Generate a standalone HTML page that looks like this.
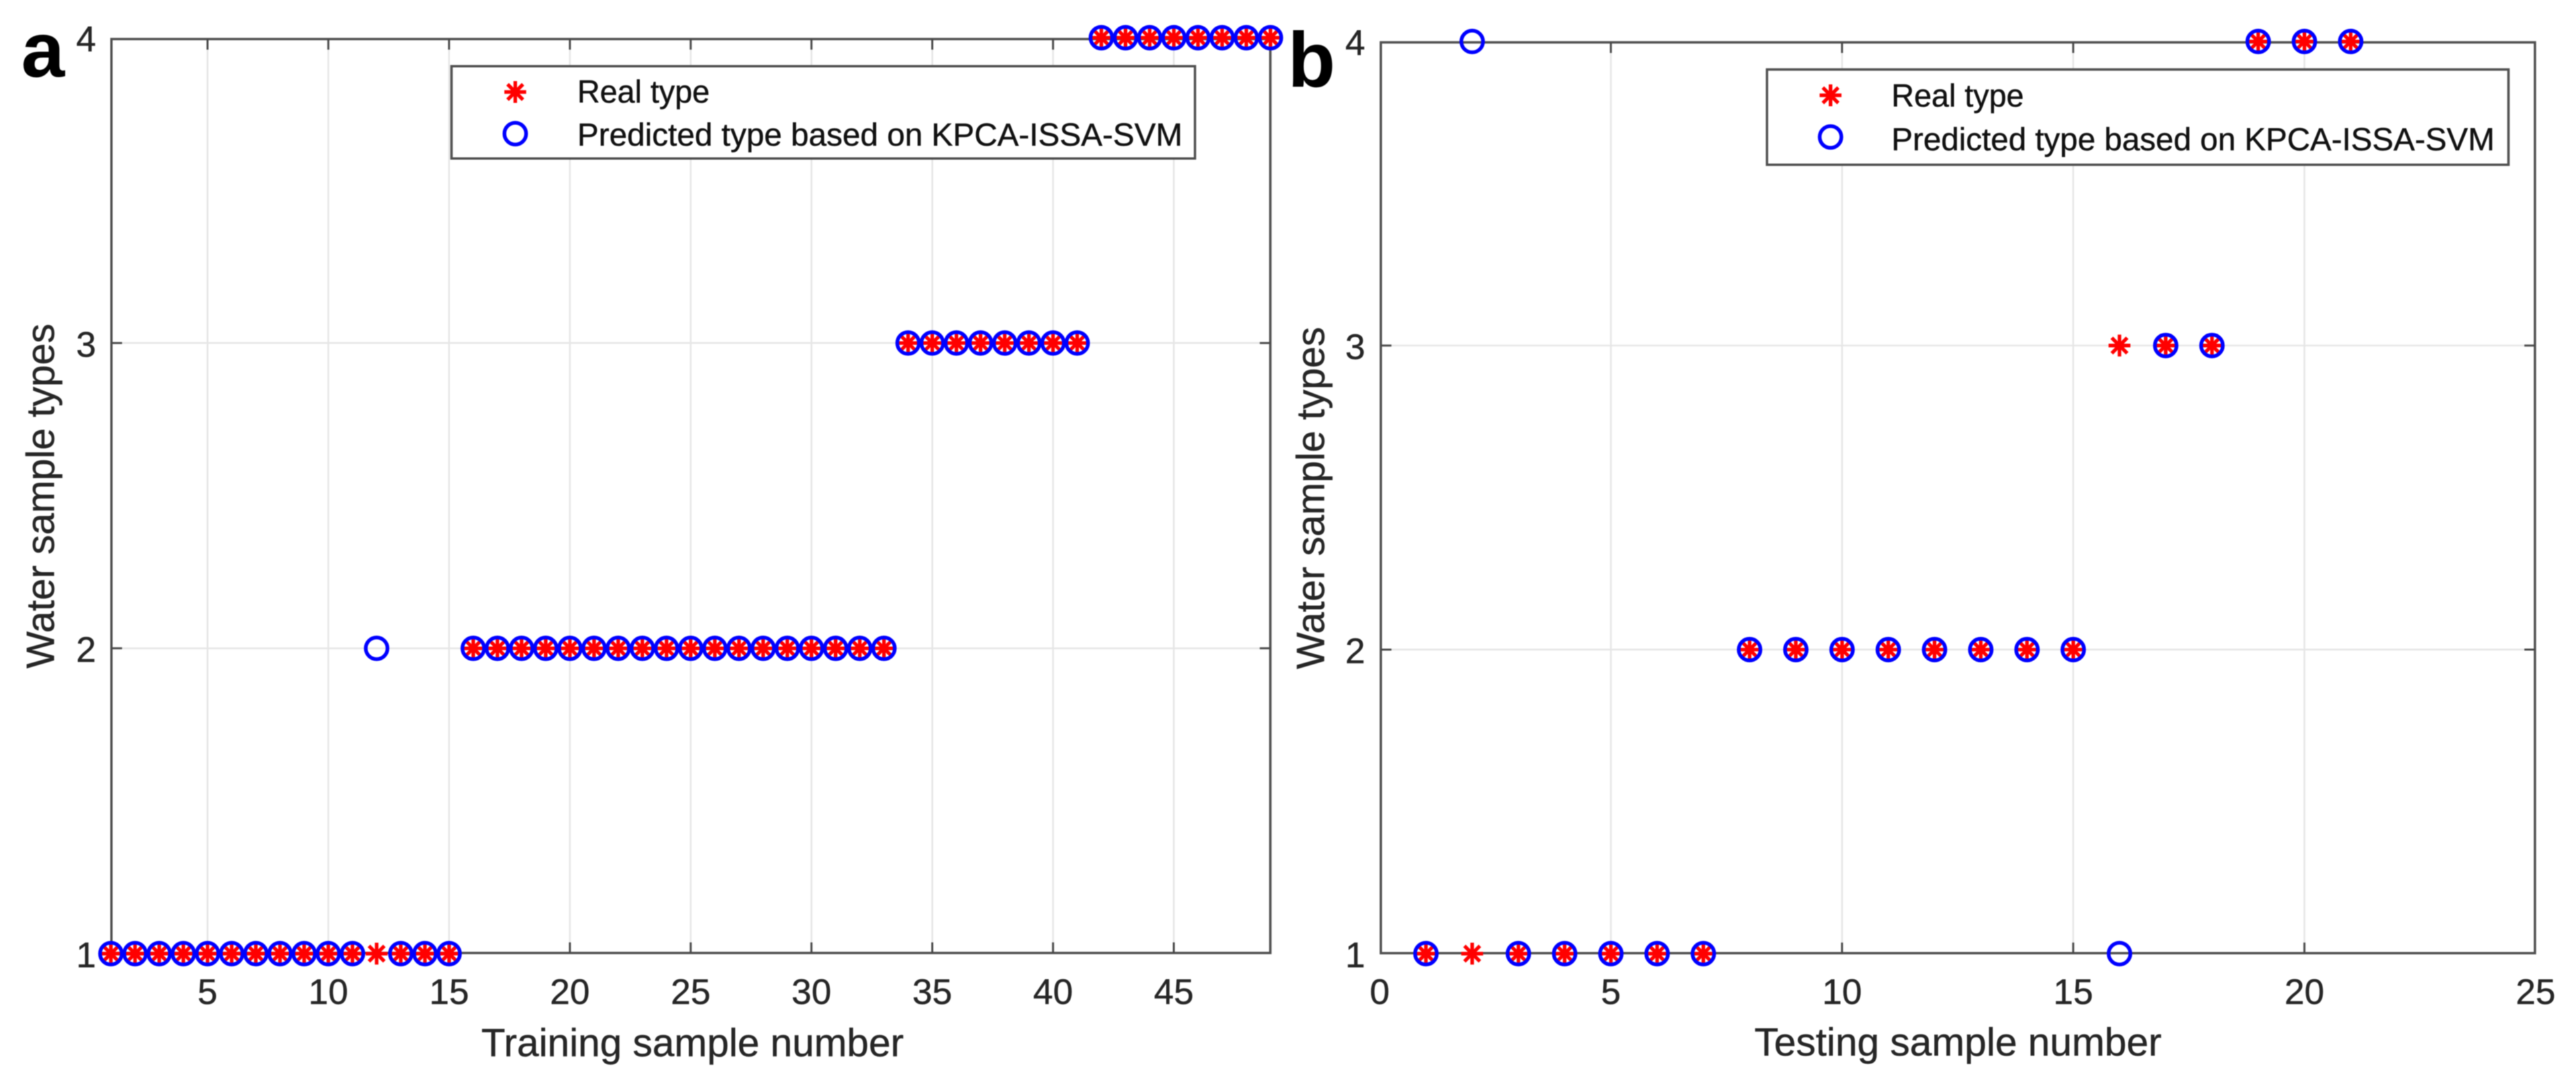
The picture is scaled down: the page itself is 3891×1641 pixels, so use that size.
<!DOCTYPE html>
<html lang="en">
<head>
<meta charset="utf-8">
<title>Water sample type classification</title>
<style>
html,body{margin:0;padding:0;background:#fff;}
#chart{display:block;width:3891px;height:1641px;filter:blur(0.9px);font-family:"Liberation Sans",Arial,sans-serif;}
.tick-label{font-size:54px;fill:#262626;stroke:#262626;stroke-width:0.5px;}
.axis-title{font-size:59px;fill:#262626;stroke:#262626;stroke-width:0.5px;}
.legend-text{font-size:48px;fill:#111;stroke:#111;stroke-width:0.5px;}
.panel-letter{font-size:118px;font-weight:bold;fill:#000;}
</style>
</head>
<body>
<svg id="chart" xmlns="http://www.w3.org/2000/svg" width="3891" height="1641" viewBox="0 0 3891 1641">
<rect x="0" y="0" width="3891" height="1641" fill="#fff"/>
<g id="panel-a"></g>
<g id="panel-b"></g>
<text class="panel-letter" x="32" y="116">a</text>
<text class="panel-letter" x="1945" y="131">b</text>
</svg>
<script>
// Panel a: training set
const trainingSamples = [1,2,3,4,5,6,7,8,9,10,11,12,13,14,15,16,17,18,19,20,21,22,23,24,25,26,27,28,29,30,31,32,33,34,35,36,37,38,39,40,41,42,43,44,45,46,47,48,49];
const trainingReal = [1,1,1,1,1,1,1,1,1,1,1,1,1,1,1,2,2,2,2,2,2,2,2,2,2,2,2,2,2,2,2,2,2,3,3,3,3,3,3,3,3,4,4,4,4,4,4,4,4];
const trainingPredicted = [1,1,1,1,1,1,1,1,1,1,1,2,1,1,1,2,2,2,2,2,2,2,2,2,2,2,2,2,2,2,2,2,2,3,3,3,3,3,3,3,3,4,4,4,4,4,4,4,4];
const trainingXTicks = [5,10,15,20,25,30,35,40,45];
// Panel b: testing set
const testingSamples = [1,2,3,4,5,6,7,8,9,10,11,12,13,14,15,16,17,18,19,20,21];
const testingReal = [1,1,1,1,1,1,1,2,2,2,2,2,2,2,2,3,3,3,4,4,4];
const testingPredicted = [1,4,1,1,1,1,1,2,2,2,2,2,2,2,2,1,3,3,4,4,4];
const testingXTicks = [0,5,10,15,20,25];
// Shared
const yTicks = [1,2,3,4];
const realLabel = "Real type";
const predictedLabel = "Predicted type based on KPCA-ISSA-SVM";

const NS = "http://www.w3.org/2000/svg";
const AXIS = "#505050", GRID = "#e6e6e6", TICK = "#484848";

function make(parent, tag, attrs, text) {
  const el = document.createElementNS(NS, tag);
  for (const k in attrs) el.setAttribute(k, attrs[k]);
  if (text !== undefined) el.textContent = text;
  parent.appendChild(el);
  return el;
}
function linear(d0, d1, r0, r1) {
  return v => r0 + (v - d0) * (r1 - r0) / (d1 - d0);
}
function drawCircle(parent, cx, cy) {
  const c = make(parent, "circle", {cx: cx, cy: cy, r: 16.4, fill: "none", stroke: "#0000ff", "stroke-width": 5.6});
  
  
  return c;
}
function drawStar(parent, cx, cy) {
  const r = 16.5, d = r * 0.707;
  const p = make(parent, "path", {
    d: "M" + (cx - r) + " " + cy + "H" + (cx + r) +
       "M" + cx + " " + (cy - r) + "V" + (cy + r) +
       "M" + (cx - d) + " " + (cy - d) + "L" + (cx + d) + " " + (cy + d) +
       "M" + (cx - d) + " " + (cy + d) + "L" + (cx + d) + " " + (cy - d),
    fill: "none", stroke: "#ff0000", "stroke-width": 5.4
  });
  
  
  return p;
}

function drawPanel(root, cfg) {
  const x = linear(cfg.xDomain[0], cfg.xDomain[1], cfg.xRange[0], cfg.xRange[1]);
  const y = linear(1, 4, cfg.yRange[0], cfg.yRange[1]);
  const f = cfg.frame;

  // grid
  cfg.xTicks.forEach(t => {
    const px = x(t);
    if (px <= f.left + 4 || px >= f.right - 4) return;
    const g = make(root, "line", {x1: px, x2: px, y1: f.top, y2: f.bottom, stroke: GRID, "stroke-width": 2.6});
    
    
  });
  [2, 3].forEach(t => {
    const g = make(root, "line", {x1: f.left, x2: f.right, y1: y(t), y2: y(t), stroke: GRID, "stroke-width": 2.6});
    
    
  });

  // frame
  const frame = make(root, "rect", {x: f.left, y: f.top, width: f.right - f.left, height: f.bottom - f.top, fill: "none", stroke: AXIS, "stroke-width": 3.6});
  
  

  // x ticks and labels
  cfg.xTicks.forEach(t => {
    const px = x(t);
    if (px > f.left + 4 && px < f.right - 4) {
      const t1 = make(root, "line", {x1: px, x2: px, y1: f.bottom, y2: f.bottom - 16, stroke: TICK, "stroke-width": 3});
      
      
      const t2 = make(root, "line", {x1: px, x2: px, y1: f.top, y2: f.top + 16, stroke: TICK, "stroke-width": 3});
      
      
    }
    const lab = make(root, "text", {class: "tick-label", x: px, y: 1517, "text-anchor": "middle"}, String(t));
    
    
  });

  // y ticks and labels
  yTicks.forEach(t => {
    const py = y(t);
    if (t === 2 || t === 3) {
      const t1 = make(root, "line", {x1: f.left, x2: f.left + 16, y1: py, y2: py, stroke: TICK, "stroke-width": 3});
      
      
      const t2 = make(root, "line", {x1: f.right, x2: f.right - 16, y1: py, y2: py, stroke: TICK, "stroke-width": 3});
      
      
    }
    const lab = make(root, "text", {class: "tick-label", x: cfg.yLabelX, y: py + 20.5, "text-anchor": "end"}, String(t));
    
    
  });

  // axis titles
  const xt = make(root, "text", {class: "axis-title", x: cfg.xTitle.x, y: cfg.xTitle.y, textLength: cfg.xTitle.len, lengthAdjust: "spacingAndGlyphs"}, cfg.xTitle.text);
  
  
  const yt = make(root, "text", {class: "axis-title", transform: "translate(" + cfg.yTitle.x + " " + cfg.yTitle.y + ") rotate(-90)", textLength: cfg.yTitle.len, lengthAdjust: "spacingAndGlyphs"}, "Water sample types");
  
  

  // legend box (drawn before the data so markers stay on top)
  const lg = cfg.legend;
  const box = make(root, "rect", {x: lg.left, y: lg.top, width: lg.right - lg.left, height: lg.bottom - lg.top, fill: "#fff", stroke: AXIS, "stroke-width": 3.6});
  
  
  drawStar(root, lg.markerX, lg.starY);
  drawCircle(root, lg.markerX, lg.circleY);
  const t1 = make(root, "text", {class: "legend-text", x: lg.textX, y: lg.realBase, textLength: lg.realLen, lengthAdjust: "spacingAndGlyphs"}, realLabel);
  
  
  const t2 = make(root, "text", {class: "legend-text", x: lg.textX, y: lg.predBase, textLength: lg.predLen, lengthAdjust: "spacingAndGlyphs"}, predictedLabel);
  
  

  // series: real stars below, predicted circles over their tips
  cfg.samples.forEach((s, i) => { drawStar(root, x(s), y(cfg.real[i])); });
  cfg.samples.forEach((s, i) => { drawCircle(root, x(s), y(cfg.predicted[i])); });
}

drawPanel(document.getElementById("panel-a"), {
  samples: trainingSamples, real: trainingReal, predicted: trainingPredicted, xTicks: trainingXTicks,
  xDomain: [1, 49], xRange: [167.5, 1919], yRange: [1441, 57],
  frame: {left: 168.3, right: 1918.8, top: 59, bottom: 1440},
  yLabelX: 145,
  xTitle: {text: "Training sample number", x: 727, y: 1596, len: 638},
  yTitle: {x: 81.7, y: 1010, len: 521},
  legend: {left: 682, right: 1805, top: 100, bottom: 239.5, markerX: 778.3, starY: 139, circleY: 202, textX: 872, realBase: 155, predBase: 220, realLen: 200, predLen: 914}
});
drawPanel(document.getElementById("panel-b"), {
  samples: testingSamples, real: testingReal, predicted: testingPredicted, xTicks: testingXTicks,
  xDomain: [0, 25], xRange: [2084, 3830], yRange: [1441, 62.7],
  frame: {left: 2085.7, right: 3829, top: 64, bottom: 1440.3},
  yLabelX: 2062,
  xTitle: {text: "Testing sample number", x: 2650, y: 1595, len: 615},
  yTitle: {x: 2000, y: 1011, len: 517},
  legend: {left: 2669, right: 3789, top: 105, bottom: 249, markerX: 2765, starY: 144, circleY: 207, textX: 2857, realBase: 161, predBase: 227, realLen: 200, predLen: 911}
});
</script>
</body>
</html>
